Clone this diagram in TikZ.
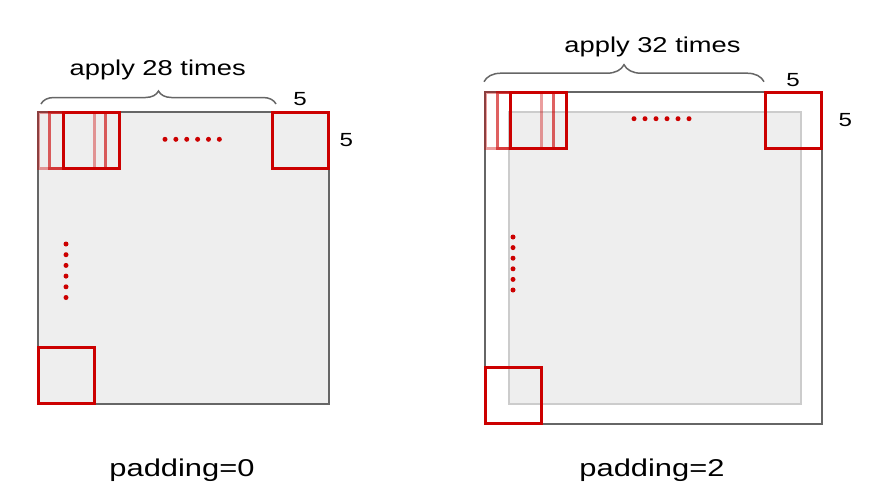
\documentclass[tikz,border=0pt]{standalone}
\usepackage{fontspec}
\newfontfamily\slidefont[FakeStretch=1.27]{Liberation Sans}
\usetikzlibrary{positioning,decorations.pathreplacing}
\definecolor{winred}{HTML}{CC0000}
\definecolor{edgegray}{HTML}{666666}
\definecolor{padgray}{HTML}{CCCCCC}
\definecolor{mapfill}{HTML}{EEEEEE}

\begin{document}
\begin{tikzpicture}[x=1pt,y=-1pt,
    win/.style={draw=winred,line width=3pt,minimum size=56pt,inner sep=0pt,anchor=north west},
    ghost/.style={win,draw opacity=#1},
    fmap/.style={draw=edgegray,line width=1.5pt,fill=mapfill,inner sep=0pt,anchor=north west},
    brc/.style={draw=edgegray,line width=1.5pt,decorate,decoration={brace,amplitude=#1}},
    lbl/.style={font=\slidefont\fontsize{21.5}{24}\selectfont,anchor=base},
    num/.style={font=\slidefont\fontsize{19}{22}\selectfont,inner sep=0pt},
    captxt/.style={font=\slidefont\fontsize{24.3}{28}\selectfont,anchor=base},
    dot/.style={circle,fill=winred,inner sep=0pt,minimum size=5pt}]
  \useasboundingbox (0,0) rectangle (874,496);

  % padding=0
  \node[fmap,minimum width=291pt,minimum height=292pt] (mapA) at (37,111) {};
  \node[ghost=0.38] (a1) at (37,111) {};
  \node[ghost=0.62] (a2) at (47.5,111) {};
  \node[win] (a3) at (61.5,111) {};
  \node[win,anchor=north east] (aR) at (mapA.north east) {};
  \node[win,anchor=south west] (aB) at (mapA.south west) {};
  \node[num,above=5pt of aR] (aRw) {5};
  \node[num,right=10pt of aR] (aRh) {5};
  \foreach \i in {0,...,5} {
    \node[dot] (ah\i) at ({165+10.87*\i},139.3) {};
    \node[dot] (av\i) at (66,{244+10.7*\i}) {};
  }
  \coordinate (abL) at (41,104);
  \coordinate (abR) at (276,104);
  \draw[brc=13pt] (abL) -- (abR);
  \node[lbl] (aTxt) at (157.7,75) {apply 28 times};
  \node[captxt] (capA) at (182,476.5) {padding=0};

  % padding=2
  \node[fmap,fill=white,minimum width=337pt,minimum height=332pt] (mapB) at (484,91) {};
  \node[fmap,draw=padgray,minimum width=292pt,minimum height=292pt] (coreB) at (508,111) {};
  \node[ghost=0.38] (b1) at (484,91) {};
  \node[ghost=0.62] (b2) at (496,91) {};
  \node[win] (b3) at (509,91) {};
  \node[win,anchor=north east] (bR) at (mapB.north east) {};
  \node[win,anchor=south west] (bB) at (mapB.south west) {};
  \node[num,above=4.5pt of bR] (bRw) {5};
  \node[num,right=16pt of bR] (bRh) {5};
  \foreach \i in {0,...,5} {
    \node[dot] (bh\i) at ({634+11*\i},118.7) {};
    \node[dot] (bv\i) at (513,{237+10.6*\i}) {};
  }
  \coordinate (bbL) at (484,81.7);
  \coordinate (bbR) at (764,81.7);
  \draw[brc=17pt] (bbL) -- (bbR);
  \node[lbl] (bTxt) at (652.5,52.5) {apply 32 times};
  \node[captxt] (capB) at (652,476) {padding=2};
\end{tikzpicture}
\end{document}
